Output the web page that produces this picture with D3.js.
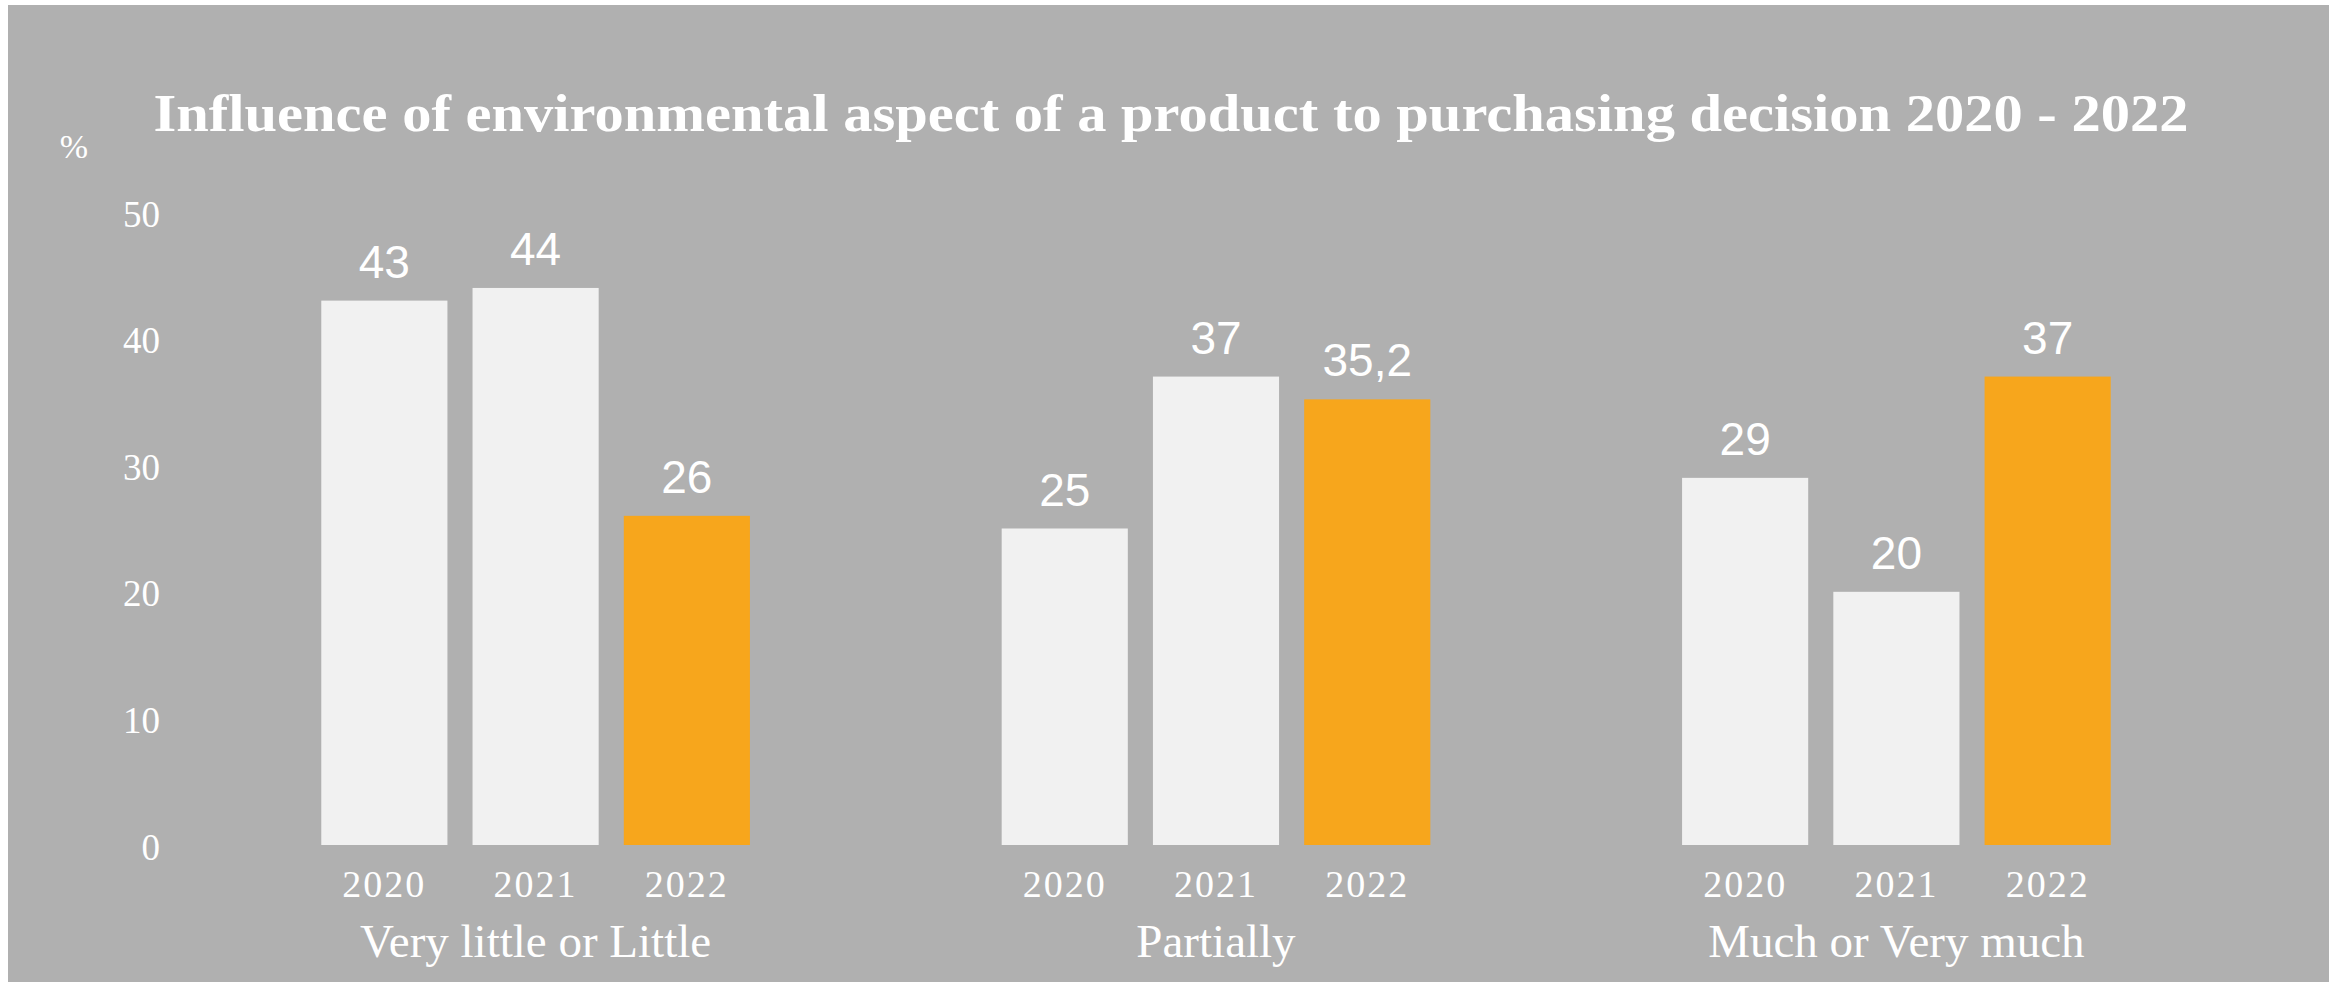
<!DOCTYPE html>
<html>
<head>
<meta charset="utf-8">
<script src="https://cdn.jsdelivr.net/npm/d3@7"></script>
<style>
  html, body { margin: 0; padding: 0; background: #ffffff; }
  svg { display: block; }
</style>
</head>
<body>
<svg id="chart" width="2341" height="982"></svg>
<script>
// Survey answer groups and the years compared within each group
const categories = ["Very little or Little", "Partially", "Much or Very much"];
const years = ["2020", "2021", "2022"];

// Share of respondents (%) per group, one value per year
const values2020 = [43, 25, 29];
const values2021 = [44, 37, 20];
const values2022 = [26, 35.2, 37];

const yTicks = [0, 10, 20, 30, 40, 50];
const titleText = "Influence of environmental aspect of a product to purchasing decision 2020 - 2022";
const unitLabel = "%";

const seriesByYear = { "2020": values2020, "2021": values2021, "2022": values2022 };
const rows = categories.map((c, i) => ({
  category: c,
  bars: years.map(y => ({ year: y, value: seriesByYear[y][i] }))
}));

const svg = d3.select("#chart");
const serif = "'Liberation Serif', 'DejaVu Serif', serif";
const sans = "'Liberation Sans', Arial, sans-serif";
const barLight = "#f1f1f1";
const barAccent = "#f7a61c";

// Panel background
svg.append("rect")
  .attr("x", 8).attr("y", 5)
  .attr("width", 2321).attr("height", 977)
  .attr("fill", "#b0b0b0");

// Scales
const y = d3.scaleLinear().domain([0, 50]).range([845, 212]);
const x0 = d3.scaleBand().domain(categories).range([175, 2257])
  .paddingInner(0.37).paddingOuter(0.215);
const x1 = d3.scaleBand().domain(years).range([0, x0.bandwidth()])
  .paddingInner(0.166).paddingOuter(0);

// Title
svg.append("text")
  .attr("x", 1171).attr("y", 131)
  .attr("text-anchor", "middle")
  .attr("textLength", 2035)
  .attr("lengthAdjust", "spacingAndGlyphs")
  .attr("font-family", serif)
  .attr("font-weight", "bold")
  .attr("font-size", 52)
  .attr("fill", "#ffffff")
  .text(titleText);

// Unit label
svg.append("text")
  .attr("x", 74).attr("y", 158)
  .attr("text-anchor", "middle")
  .attr("font-family", serif)
  .attr("font-size", 34)
  .attr("fill", "#ffffff")
  .text(unitLabel);

// Y axis (labels only)
const yAxis = d3.axisLeft(y).tickValues(yTicks).tickSize(0).tickPadding(0);
const gy = svg.append("g").attr("transform", "translate(160,0)").call(yAxis);
gy.select(".domain").remove();
gy.selectAll("text")
  .attr("font-family", serif)
  .attr("font-size", 37)
  .attr("fill", "#ffffff")
  .attr("dy", "0.38em");

// Bars
const groups = svg.append("g").selectAll("g")
  .data(rows).join("g")
  .attr("transform", d => `translate(${x0(d.category)},0)`);

groups.selectAll("rect")
  .data(d => d.bars).join("rect")
  .attr("x", d => x1(d.year))
  .attr("y", d => y(d.value))
  .attr("width", x1.bandwidth())
  .attr("height", d => y(0) - y(d.value))
  .attr("fill", d => d.year === "2022" ? barAccent : barLight);

// Value labels
groups.selectAll("text.value")
  .data(d => d.bars).join("text")
  .attr("class", "value")
  .attr("x", d => x1(d.year) + x1.bandwidth() / 2)
  .attr("y", d => y(d.value) - 23)
  .attr("text-anchor", "middle")
  .attr("font-family", sans)
  .attr("font-size", 46)
  .attr("fill", "#ffffff")
  .text(d => String(d.value).replace(".", ","));

// Year labels under each bar
groups.selectAll("text.year")
  .data(d => d.bars).join("text")
  .attr("class", "year")
  .attr("x", d => x1(d.year) + x1.bandwidth() / 2)
  .attr("y", 897)
  .attr("text-anchor", "middle")
  .attr("font-family", serif)
  .attr("font-size", 38)
  .attr("letter-spacing", 2)
  .attr("fill", "#ffffff")
  .text(d => d.year);

// Category labels
groups.append("text")
  .attr("x", x0.bandwidth() / 2)
  .attr("y", 957)
  .attr("text-anchor", "middle")
  .attr("font-family", serif)
  .attr("font-size", 47)
  .attr("fill", "#ffffff")
  .text(d => d.category);
</script>
</body>
</html>
